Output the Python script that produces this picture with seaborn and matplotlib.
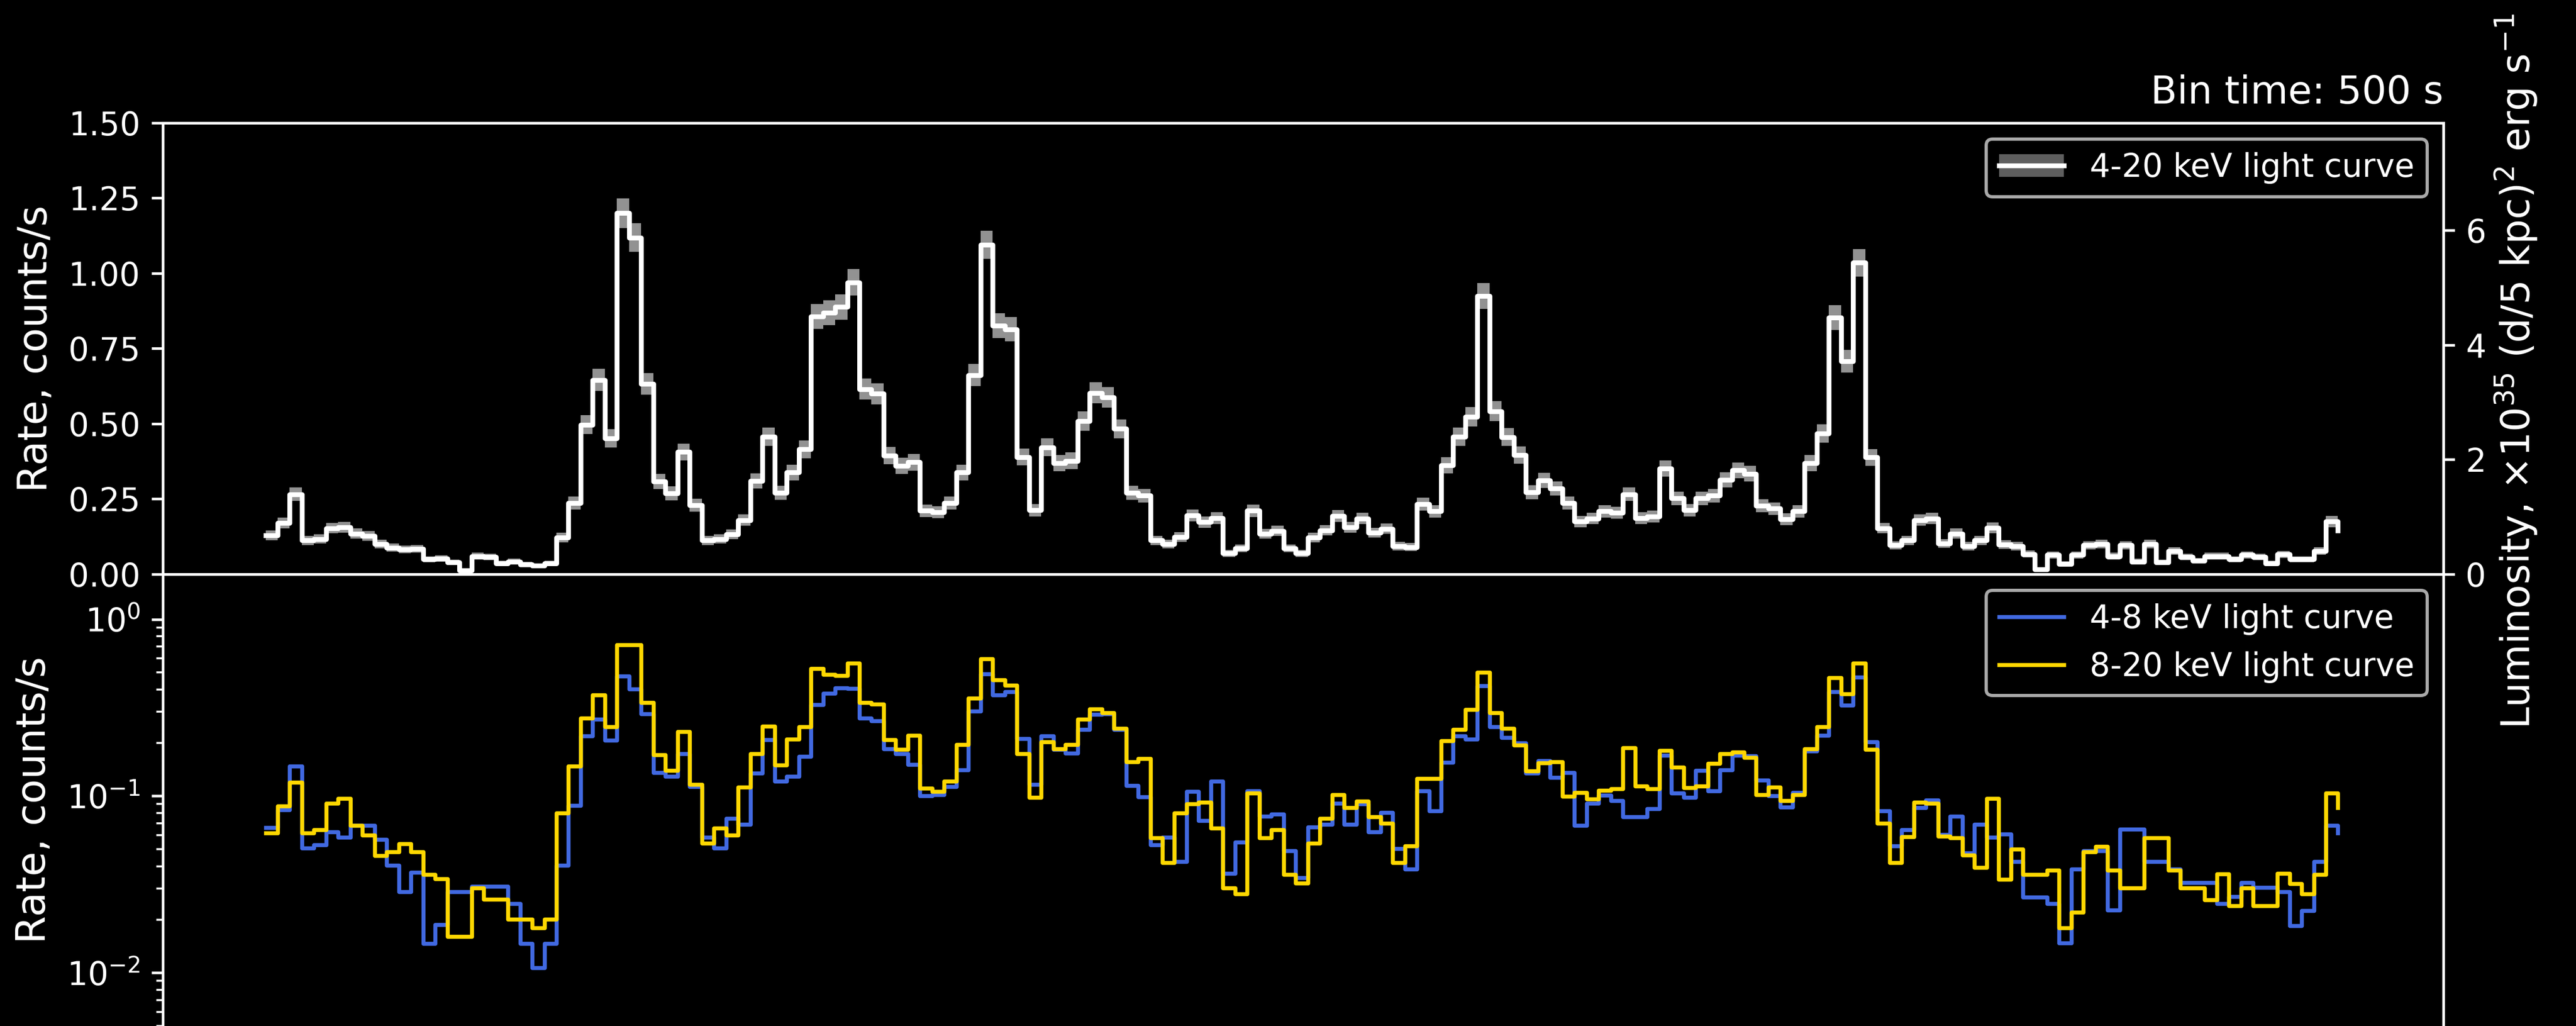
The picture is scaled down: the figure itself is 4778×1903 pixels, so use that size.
import numpy as np
import matplotlib
matplotlib.use("Agg")
import matplotlib.pyplot as plt
import seaborn as sns
from matplotlib.patches import Patch
from matplotlib.lines import Line2D
from matplotlib.legend_handler import HandlerTuple
from matplotlib.ticker import FormatStrFormatter

# ---------------------------------------------------------------------------
# Light-curve data, 500 s bins (count rates in counts/s)
# ---------------------------------------------------------------------------
BIN_TIME = 500  # s
LUM_PER_RATE = 5.25  # 1e35 (d/5 kpc)^2 erg/s per count/s

rate_4_20 = np.array([
    0.129, 0.170, 0.266, 0.112, 0.117, 0.153, 0.156, 0.135, 0.127, 0.100,
    0.088, 0.082, 0.084, 0.050, 0.052, 0.040, 0.013, 0.060, 0.058, 0.036,
    0.042, 0.033, 0.028, 0.036, 0.122, 0.237, 0.497, 0.646, 0.452, 1.200,
    1.119, 0.633, 0.308, 0.269, 0.406, 0.230, 0.112, 0.117, 0.132, 0.180,
    0.310, 0.457, 0.271, 0.338, 0.415, 0.857, 0.869, 0.888, 0.970, 0.615,
    0.600, 0.394, 0.360, 0.372, 0.211, 0.206, 0.236, 0.338, 0.662, 1.095,
    0.826, 0.814, 0.389, 0.213, 0.422, 0.369, 0.377, 0.509, 0.603, 0.588,
    0.483, 0.271, 0.261, 0.112, 0.100, 0.124, 0.196, 0.173, 0.186, 0.069,
    0.086, 0.211, 0.134, 0.144, 0.086, 0.069, 0.122, 0.146, 0.194, 0.156,
    0.185, 0.138, 0.151, 0.093, 0.090, 0.233, 0.209, 0.362, 0.457, 0.523,
    0.925, 0.542, 0.456, 0.396, 0.273, 0.312, 0.285, 0.237, 0.175, 0.185,
    0.209, 0.204, 0.266, 0.186, 0.192, 0.351, 0.252, 0.213, 0.252, 0.261,
    0.314, 0.345, 0.334, 0.228, 0.218, 0.183, 0.209, 0.369, 0.468, 0.853,
    0.708, 1.035, 0.388, 0.153, 0.096, 0.112, 0.180, 0.185, 0.103, 0.135,
    0.093, 0.112, 0.154, 0.098, 0.093, 0.067, 0.016, 0.064, 0.034, 0.064,
    0.096, 0.100, 0.060, 0.096, 0.042, 0.100, 0.040, 0.077, 0.058, 0.045,
    0.060, 0.060, 0.050, 0.064, 0.058, 0.036, 0.066, 0.050, 0.050, 0.077,
    0.175, 0.146,
])

rate_4_8 = np.array([
    0.0663, 0.0834, 0.1475, 0.0508, 0.0529, 0.0628, 0.0585, 0.0684, 0.0684, 0.0567,
    0.0405, 0.0287, 0.0369, 0.0146, 0.0187, 0.0287, 0.0287, 0.0308, 0.0308, 0.0308,
    0.0247, 0.0146, 0.0107, 0.0146, 0.0405, 0.0887, 0.219, 0.272, 0.207, 0.478,
    0.403, 0.292, 0.136, 0.129, 0.173, 0.113, 0.0585, 0.0508, 0.0746, 0.069,
    0.135, 0.209, 0.1215, 0.129, 0.167, 0.330, 0.380, 0.410, 0.407, 0.275,
    0.266, 0.185, 0.174, 0.151, 0.1007, 0.102, 0.113, 0.141, 0.303, 0.490,
    0.372, 0.388, 0.212, 0.116, 0.219, 0.183, 0.175, 0.238, 0.290, 0.292,
    0.238, 0.115, 0.099, 0.0529, 0.0586, 0.0427, 0.106, 0.0724, 0.1215, 0.0366,
    0.0547, 0.107, 0.0766, 0.0788, 0.0489, 0.0346, 0.0668, 0.069, 0.0907, 0.069,
    0.0903, 0.0628, 0.0807, 0.0505, 0.0386, 0.107, 0.0826, 0.155, 0.219, 0.210,
    0.421, 0.246, 0.214, 0.200, 0.135, 0.158, 0.127, 0.136, 0.0684, 0.0907,
    0.101, 0.0944, 0.0763, 0.0763, 0.0847, 0.170, 0.1038, 0.098, 0.140, 0.107,
    0.141, 0.170, 0.169, 0.123, 0.1007, 0.0865, 0.105, 0.180, 0.220, 0.390,
    0.326, 0.471, 0.202, 0.0826, 0.0523, 0.0644, 0.086, 0.095, 0.0604, 0.0771,
    0.0478, 0.069, 0.0585, 0.061, 0.0425, 0.0267, 0.0267, 0.0247, 0.0147, 0.0386,
    0.0489, 0.0489, 0.0227, 0.0648, 0.0648, 0.0425, 0.0425, 0.0386, 0.0325, 0.0325,
    0.0325, 0.0247, 0.0269, 0.0325, 0.0305, 0.0305, 0.0287, 0.0185, 0.0225, 0.0425,
    0.0684, 0.0619,
])

rate_8_20 = np.array([
    0.0619, 0.0881, 0.120, 0.0619, 0.0643, 0.0907, 0.0966, 0.068, 0.060, 0.0459,
    0.0482, 0.0537, 0.0482, 0.036, 0.0341, 0.0161, 0.0161, 0.0301, 0.0261, 0.0261,
    0.0201, 0.0201, 0.0179, 0.0201, 0.080, 0.148, 0.276, 0.372, 0.246, 0.715,
    0.715, 0.339, 0.171, 0.140, 0.231, 0.116, 0.054, 0.0659, 0.060, 0.112,
    0.174, 0.248, 0.150, 0.210, 0.246, 0.527, 0.488, 0.479, 0.565, 0.339,
    0.331, 0.208, 0.183, 0.220, 0.1106, 0.106, 0.1215, 0.196, 0.359, 0.598,
    0.454, 0.424, 0.174, 0.098, 0.202, 0.185, 0.196, 0.272, 0.311, 0.295,
    0.242, 0.156, 0.163, 0.058, 0.042, 0.080, 0.090, 0.092, 0.0659, 0.0301,
    0.028, 0.1038, 0.058, 0.0643, 0.036, 0.0322, 0.054, 0.0746, 0.102, 0.086,
    0.0935, 0.0763, 0.070, 0.042, 0.0523, 0.126, 0.126, 0.205, 0.238, 0.308,
    0.503, 0.297, 0.242, 0.194, 0.139, 0.154, 0.156, 0.0997, 0.1045, 0.096,
    0.108, 0.110, 0.188, 0.114, 0.110, 0.181, 0.146, 0.1116, 0.114, 0.153,
    0.173, 0.177, 0.165, 0.102, 0.112, 0.094, 0.102, 0.185, 0.246, 0.466,
    0.379, 0.565, 0.184, 0.070, 0.042, 0.0589, 0.092, 0.0907, 0.0593, 0.058,
    0.0463, 0.0395, 0.0966, 0.0338, 0.050, 0.036, 0.036, 0.038, 0.0179, 0.022,
    0.0482, 0.052, 0.038, 0.0301, 0.0301, 0.058, 0.058, 0.038, 0.0301, 0.0301,
    0.0259, 0.0363, 0.024, 0.0301, 0.024, 0.024, 0.0364, 0.032, 0.028, 0.036,
    0.1038, 0.086,
])

labels = ["4-20 keV light curve", "4-8 keV light curve", "8-20 keV light curve"]

# Bin start times and Poisson uncertainty of the full-band rate
time = np.arange(len(rate_4_20)) * BIN_TIME
rate_err = np.sqrt(rate_4_20 * BIN_TIME) / BIN_TIME

# ---------------------------------------------------------------------------
# Figure
# ---------------------------------------------------------------------------
plt.style.use("dark_background")
plt.rcParams["font.family"] = ["DejaVu Sans"]

DPI = 430
fig = plt.figure(figsize=(4778 / DPI, 1903 / DPI), dpi=DPI)
ax_top = fig.add_axes([0.06321, 0.44036, 0.88522, 0.43983])
ax_bot = fig.add_axes([0.06321, 0.0, 0.88522, 0.44036], sharex=ax_top)

# --- upper panel: full band with error band
ax_top.fill_between(time, rate_4_20 - rate_err, rate_4_20 + rate_err,
                    step="post", color="#929292", lw=0)
sns.lineplot(x=time, y=rate_4_20, ax=ax_top, color="white", lw=1.5,
             drawstyle="steps-post", estimator=None, errorbar=None,
             legend=False)

ax_top.set_ylim(0, 1.5)
ax_top.set_yticks(np.arange(0, 1.51, 0.25))
ax_top.yaxis.set_major_formatter(FormatStrFormatter("%.2f"))
ax_top.set_ylabel("Rate, counts/s", fontsize=12.5)
ax_top.set_xlabel("")
ax_top.tick_params(axis="x", which="both", bottom=False, labelbottom=False)
ax_top.tick_params(axis="y", labelsize=10)
ax_top.set_title("Bin time: 500 s", loc="right", fontsize=12)

ax_lum = ax_top.twinx()
ax_lum.set_ylim(0, 1.5 * LUM_PER_RATE)
ax_lum.set_yticks([0, 2, 4, 6])
ax_lum.tick_params(axis="y", labelsize=10)
ax_lum.set_ylabel(r"Luminosity, $\times10^{35}$ (d/5 kpc)$^2$ erg s$^{-1}$",
                  fontsize=12.2)
ax_lum.yaxis.set_label_coords(1.022, 0.45)

band_handle = (Patch(facecolor="#5e5e5e", edgecolor="none"),
               Line2D([], [], color="white", lw=1.5))
ax_lum.legend(handles=[band_handle], labels=[labels[0]],
              handler_map={tuple: HandlerTuple(ndivide=1)},
              loc="upper right", fontsize=10, facecolor="black",
              edgecolor="#a8a8a8", framealpha=1)

# --- lower panel: soft and hard bands on a log scale
sns.lineplot(x=time, y=rate_4_8, ax=ax_bot, color="royalblue", lw=1.25,
             drawstyle="steps-post", estimator=None, errorbar=None,
             label=labels[1])
sns.lineplot(x=time, y=rate_8_20, ax=ax_bot, color="gold", lw=1.25,
             drawstyle="steps-post", estimator=None, errorbar=None,
             label=labels[2])
ax_bot.set_yscale("log")
ax_bot.set_ylim(5e-3, 1.8)
ax_bot.set_ylabel("Rate, counts/s", fontsize=12.5)
ax_bot.set_xlabel("")
ax_bot.tick_params(axis="y", which="major", labelsize=10)
ax_bot.tick_params(axis="x", which="both", bottom=False, labelbottom=False)
ax_bot.spines["bottom"].set_visible(False)
ax_bot.legend(loc="upper right", fontsize=10, facecolor="black",
              edgecolor="#a8a8a8", framealpha=1)

ax_top.set_xlim(-8.474 * BIN_TIME, 179.68 * BIN_TIME)

fig.savefig("out.png", dpi=DPI, facecolor="black")
